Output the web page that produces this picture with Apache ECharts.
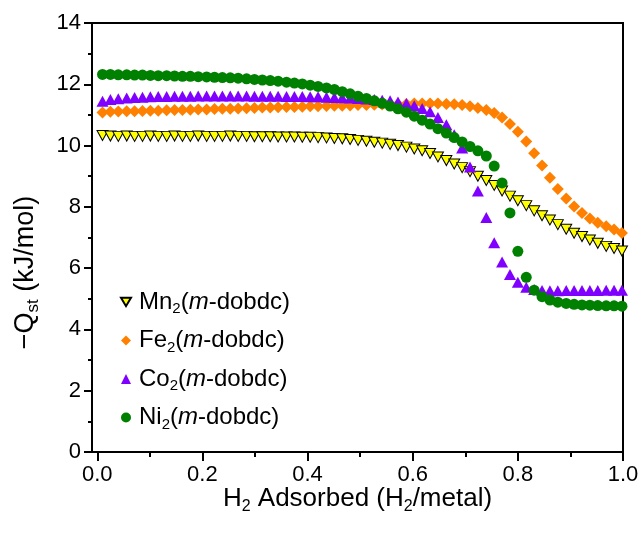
<!DOCTYPE html>
<html>
<head>
<meta charset="utf-8">
<script src="https://cdn.jsdelivr.net/npm/echarts@6/dist/echarts.min.js"></script>
<style>html,body{margin:0;padding:0;background:#fff}#c{width:642px;height:535px}</style>
</head>
<body>
<div id="c"></div>
<script>
// H2 loading (H2/metal) at which each point is measured
const X = [0.010,0.025,0.040,0.056,0.071,0.086,0.101,0.116,0.132,0.147,
0.162,0.177,0.192,0.208,0.223,0.238,0.253,0.268,0.284,0.299,
0.314,0.329,0.344,0.360,0.375,0.390,0.405,0.420,0.436,0.451,
0.466,0.481,0.496,0.512,0.527,0.542,0.557,0.572,0.588,0.603,
0.618,0.633,0.648,0.664,0.679,0.694,0.709,0.724,0.740,0.755,
0.770,0.785,0.800,0.816,0.831,0.846,0.861,0.876,0.892,0.907,
0.922,0.937,0.952,0.968,0.983,0.998];

const MN = [10.33,10.31,10.30,10.31,10.30,10.30,10.31,10.30,10.30,10.31,
10.30,10.30,10.31,10.30,10.30,10.30,10.31,10.30,10.30,10.29,
10.29,10.29,10.28,10.28,10.28,10.27,10.27,10.26,10.25,10.23,
10.22,10.20,10.17,10.14,10.11,10.08,10.04,10.00,9.95,9.89,
9.83,9.74,9.63,9.51,9.40,9.28,9.15,9.00,8.86,8.70,
8.52,8.35,8.20,8.04,7.87,7.71,7.57,7.42,7.27,7.14,
7.03,6.92,6.81,6.71,6.64,6.56];

const FE = [11.08,11.10,11.11,11.12,11.12,11.13,11.14,11.14,11.15,11.16,
11.16,11.17,11.18,11.18,11.19,11.20,11.20,11.21,11.22,11.23,
11.24,11.24,11.25,11.26,11.26,11.27,11.28,11.28,11.29,11.30,
11.30,11.31,11.32,11.32,11.33,11.34,11.35,11.35,11.36,11.37,
11.37,11.37,11.37,11.36,11.35,11.32,11.28,11.23,11.16,11.06,
10.92,10.70,10.45,10.13,9.75,9.35,8.95,8.58,8.27,8.01,
7.80,7.62,7.48,7.37,7.26,7.15];

const CO = [11.45,11.50,11.53,11.55,11.57,11.58,11.59,11.60,11.60,11.61,
11.61,11.61,11.62,11.62,11.62,11.62,11.62,11.62,11.62,11.61,
11.61,11.61,11.61,11.60,11.60,11.60,11.59,11.59,11.58,11.57,
11.56,11.55,11.54,11.52,11.50,11.48,11.46,11.42,11.37,11.30,
11.21,11.10,10.92,10.68,10.35,9.92,9.30,8.52,7.65,6.83,
6.20,5.79,5.54,5.38,5.30,5.27,5.26,5.26,5.27,5.27,
5.27,5.27,5.27,5.28,5.28,5.28];

const NI = [12.32,12.32,12.31,12.31,12.30,12.30,12.29,12.28,12.28,12.27,
12.26,12.26,12.25,12.24,12.23,12.22,12.21,12.20,12.18,12.16,
12.14,12.12,12.10,12.07,12.04,12.01,11.97,11.93,11.88,11.83,
11.76,11.69,11.61,11.54,11.46,11.38,11.29,11.20,11.09,10.96,
10.83,10.70,10.55,10.41,10.26,10.12,9.97,9.83,9.66,9.33,
8.78,7.80,6.55,5.70,5.28,5.07,4.96,4.89,4.85,4.82,
4.80,4.79,4.78,4.77,4.77,4.76];

const SERIES_NAMES = ['Mn2(m-dobdc)','Fe2(m-dobdc)','Co2(m-dobdc)','Ni2(m-dobdc)'];
const LEGEND_RICH = {
  'Mn2(m-dobdc)': '{n|Mn}{s|2}{n|(}{i|m}{n|-dobdc)}',
  'Fe2(m-dobdc)': '{n|Fe}{s|2}{n|(}{i|m}{n|-dobdc)}',
  'Co2(m-dobdc)': '{n|Co}{s|2}{n|(}{i|m}{n|-dobdc)}',
  'Ni2(m-dobdc)': '{n|Ni}{s|2}{n|(}{i|m}{n|-dobdc)}'
};
const X_MAJOR = [0, 0.2, 0.4, 0.6, 0.8, 1.0];
const X_MINOR = [0.1, 0.3, 0.5, 0.7, 0.9];

const FONT = 'Liberation Sans, Arial, sans-serif';
const pairs = ys => X.map((x, i) => [x, ys[i]]);

const subRich = (fs) => ({
  n: {fontSize: fs, fontFamily: FONT, color: '#000'},
  i: {fontSize: fs, fontFamily: FONT, color: '#000', fontStyle: 'italic'},
  s: {fontSize: Math.round(fs * 0.62), fontFamily: FONT, color: '#000', padding: [Math.round(fs*0.6), 0, 0, 0]}
});

const chart = echarts.init(document.getElementById('c'), null, {renderer: 'canvas'});
chart.setOption({
  backgroundColor: '#fff',
  animation: false,
  grid: {left: 92, right: 19, top: 23, bottom: 83, show: true, borderColor: '#000', borderWidth: 2, backgroundColor: 'transparent'},
  legend: {
    orient: 'vertical', left: 115, top: 285, itemGap: 12,
    itemWidth: 10, itemHeight: 10,
    data: [
      {name: SERIES_NAMES[0], icon: 'path://M0,0L12,0L6,10Z'},
      {name: SERIES_NAMES[1]},
      {name: SERIES_NAMES[2]},
      {name: SERIES_NAMES[3]}
    ],
    formatter: name => LEGEND_RICH[name],
    textStyle: {fontSize: 24, fontFamily: FONT, color: '#000', rich: subRich(24), padding: [0,0,0,3]}
  },
  xAxis: [{
    type: 'value', min: -0.01, max: 1.0, position: 'bottom',
    name: '{n|H}{s|2}{n| Adsorbed (H}{s|2}{n|/metal)}',
    nameLocation: 'middle', nameGap: 31, nameMoveOverlap: false,
    nameTextStyle: {fontSize: 26, fontFamily: FONT, color: '#000', rich: subRich(26)},
    axisLine: {show: true, onZero: false, lineStyle: {color: '#000', width: 2}},
    axisTick: {show: true, inside: false, length: 9, customValues: X_MAJOR, lineStyle: {color: '#000', width: 2}},
    axisLabel: {show: true, customValues: X_MAJOR, margin: 12, fontSize: 22, fontFamily: FONT, color: '#000', formatter: v => v.toFixed(1)},
    splitLine: {show: false}
  }, {
    type: 'value', min: -0.01, max: 1.0, position: 'bottom',
    axisLine: {show: false},
    axisTick: {show: true, inside: false, length: 5, customValues: X_MINOR, lineStyle: {color: '#000', width: 2}},
    axisLabel: {show: false},
    splitLine: {show: false}
  }],
  yAxis: {
    type: 'value', min: 0, max: 14, interval: 2,
    name: '{n|\u2212Q}{s|st}{n| (kJ/mol)}',
    nameLocation: 'middle', nameGap: 50,
    nameTextStyle: {fontSize: 27, fontFamily: FONT, color: '#000', rich: subRich(27), padding: [0, 70, 0, 0]},
    axisLine: {show: true, onZero: false, lineStyle: {color: '#000', width: 2}},
    axisTick: {show: true, inside: false, length: 8, lineStyle: {color: '#000', width: 2}},
    minorTick: {show: true, splitNumber: 2, length: 4, lineStyle: {color: '#000', width: 2}},
    axisLabel: {margin: 11, fontSize: 22, fontFamily: FONT, color: '#000'},
    splitLine: {show: false}
  },
  series: [
    {name: SERIES_NAMES[0], type: 'scatter', data: pairs(MN), symbol: 'triangle', symbolRotate: 180, symbolSize: [11, 10],
     itemStyle: {color: '#FFFF00', borderColor: '#000', borderWidth: 1, opacity: 1}},
    {name: SERIES_NAMES[1], type: 'scatter', data: pairs(FE), symbol: 'diamond', symbolSize: 12,
     itemStyle: {color: '#FF8000', opacity: 1}},
    {name: SERIES_NAMES[2], type: 'scatter', data: pairs(CO), symbol: 'triangle', symbolSize: [12, 11],
     itemStyle: {color: '#8000FF', opacity: 1}},
    {name: SERIES_NAMES[3], type: 'scatter', data: pairs(NI), symbol: 'circle', symbolSize: 11,
     itemStyle: {color: '#008000', opacity: 1}}
  ]
});
</script>
</body>
</html>
